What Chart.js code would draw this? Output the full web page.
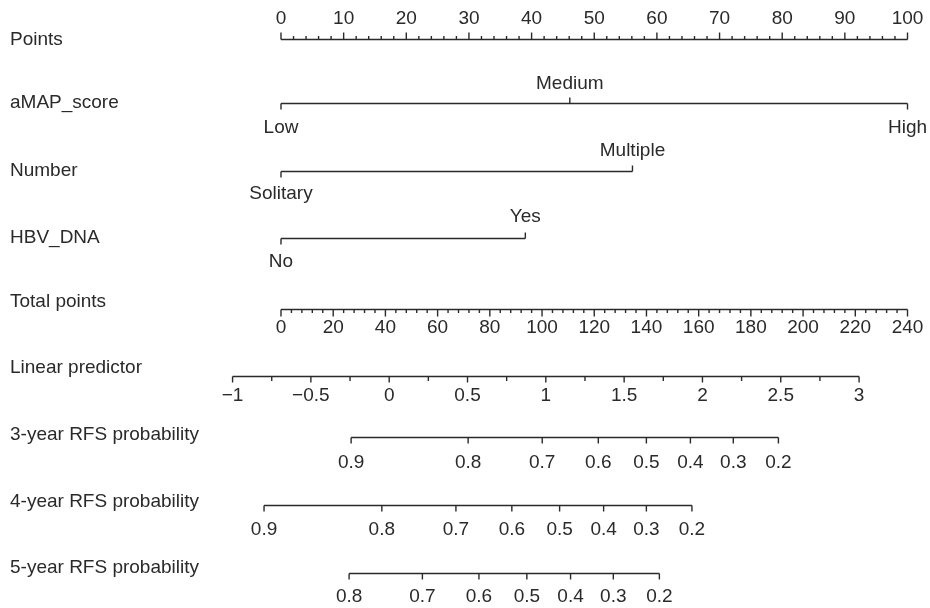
<!DOCTYPE html>
<html>
<head>
<meta charset="utf-8">
<script src="https://cdn.jsdelivr.net/npm/chart.js@4"></script>
<style>
  body { margin: 0; background: #fff; }
  canvas { display: block; }
</style>
</head>
<body>
<canvas id="nomogram" width="930" height="608"></canvas>
<script>
// Nomogram data
const rowLabels = [
  "Points", "aMAP_score", "Number", "HBV_DNA", "Total points",
  "Linear predictor", "3-year RFS probability", "4-year RFS probability", "5-year RFS probability",
];

const pointsTicks = [0, 10, 20, 30, 40, 50, 60, 70, 80, 90, 100];

const amapLevels = ["Low", "Medium", "High"];
const amapPoints = [0, 46.1, 100];
const numberLevels = ["Solitary", "Multiple"];
const numberPoints = [0, 56.1];
const hbvLevels = ["No", "Yes"];
const hbvPoints = [0, 39.0];

const totalTicks = [0, 20, 40, 60, 80, 100, 120, 140, 160, 180, 200, 220, 240];
const lpTicks = [-1, -0.5, 0, 0.5, 1, 1.5, 2, 2.5, 3];

// probability labels and where they sit on the linear predictor
const rfs3Probs = [0.9, 0.8, 0.7, 0.6, 0.5, 0.4, 0.3, 0.2];
const rfs3Lp = [-0.243, 0.504, 0.977, 1.335, 1.642, 1.923, 2.197, 2.485];
const rfs4Probs = [0.9, 0.8, 0.7, 0.6, 0.5, 0.4, 0.3, 0.2];
const rfs4Lp = [-0.799, -0.047, 0.426, 0.783, 1.088, 1.369, 1.642, 1.933];
const rfs5Probs = [0.8, 0.7, 0.6, 0.5, 0.4, 0.3, 0.2];
const rfs5Lp = [-0.256, 0.212, 0.573, 0.879, 1.158, 1.431, 1.725];

// everything is drawn on the "Points" scale
const totalToPoints = (t) => t / 2.4;
const lpToPoints = (lp) => 17.27 + 25 * lp;

const INK = "#2a2a2a";
const FONT = '19px "Liberation Sans", Arial, Helvetica, sans-serif';

function range(a, b, step) {
  const out = [];
  for (let v = a; v <= b + 1e-9; v += step) out.push(+v.toFixed(4));
  return out;
}

// row layout: y of the axis line, ticks, labels
const rows = [
  {
    y: 39.5, labelY: 40,
    ticks: pointsTicks.map((v) => ({ x: v, text: String(v), up: true, len: 7 }))
      .concat(range(0, 100, 2).filter((v) => v % 10 !== 0).map((v) => ({ x: v, up: true, len: 3.5 }))),
    textOff: 21,
  },
  {
    y: 103.5, labelY: 103,
    ticks: amapLevels.map((l, i) => ({ x: amapPoints[i], text: l, up: i === 1, len: 6 })),
    textOff: 20, textOffDown: 24,
  },
  {
    y: 171.5, labelY: 171,
    ticks: numberLevels.map((l, i) => ({ x: numberPoints[i], text: l, up: i === 1, len: 6 })),
    textOff: 21, textOffDown: 22,
  },
  {
    y: 238.5, labelY: 238,
    ticks: hbvLevels.map((l, i) => ({ x: hbvPoints[i], text: l, up: i === 1, len: 6 })),
    textOff: 22, textOffDown: 23,
  },
  {
    y: 309.5, labelY: 302,
    ticks: totalTicks.map((v) => ({ x: totalToPoints(v), text: String(v), up: false, len: 7 }))
      .concat(range(0, 240, 4).filter((v) => v % 20 !== 0).map((v) => ({ x: totalToPoints(v), up: false, len: 3.5 }))),
    textOffDown: 18,
  },
  {
    y: 376.5, labelY: 368,
    ticks: lpTicks.map((v) => ({ x: lpToPoints(v), text: String(v).replace("-", "\u2212"), up: false, len: 6 }))
      .concat(range(-0.75, 2.75, 0.5).map((v) => ({ x: lpToPoints(v), up: false, len: 4.5 }))),
    textOffDown: 19,
  },
  {
    y: 437.5, labelY: 435,
    ticks: rfs3Probs.map((p, i) => ({ x: lpToPoints(rfs3Lp[i]), text: p.toFixed(1), up: false, len: 6 })),
    textOffDown: 25,
  },
  {
    y: 505.5, labelY: 502,
    ticks: rfs4Probs.map((p, i) => ({ x: lpToPoints(rfs4Lp[i]), text: p.toFixed(1), up: false, len: 6 })),
    textOffDown: 24,
  },
  {
    y: 573.5, labelY: 568,
    ticks: rfs5Probs.map((p, i) => ({ x: lpToPoints(rfs5Lp[i]), text: p.toFixed(1), up: false, len: 6 })),
    textOffDown: 23,
  },
];

// one line dataset per axis, from its lowest tick to its highest
const datasets = rows.map((r) => {
  const xs = r.ticks.map((t) => t.x);
  return {
    data: [{ x: Math.min(...xs), y: r.y }, { x: Math.max(...xs), y: r.y }],
    showLine: true,
    borderColor: INK,
    borderWidth: 1.4,
    pointRadius: 0,
  };
});

const nomogramAxes = {
  id: "nomogramAxes",
  afterDatasetsDraw(chart) {
    const { ctx, scales } = chart;
    const sx = scales.x, sy = scales.y;
    ctx.save();
    ctx.strokeStyle = INK;
    ctx.fillStyle = INK;
    ctx.lineWidth = 1.4;
    ctx.font = FONT;
    ctx.textBaseline = "middle";

    rows.forEach((r, i) => {
      const yLine = sy.getPixelForValue(r.y);
      // row name on the left
      ctx.textAlign = "left";
      ctx.fillText(rowLabels[i], 10, sy.getPixelForValue(r.labelY));

      ctx.textAlign = "center";
      r.ticks.forEach((t) => {
        const px = sx.getPixelForValue(t.x);
        const dir = t.up ? -1 : 1;
        ctx.beginPath();
        ctx.moveTo(px, yLine);
        ctx.lineTo(px, yLine + dir * t.len);
        ctx.stroke();
        if (t.text) {
          const off = t.up ? r.textOff : r.textOffDown;
          ctx.fillText(t.text, px, yLine + dir * off);
        }
      });
    });
    ctx.restore();
  },
};

new Chart(document.getElementById("nomogram"), {
  type: "scatter",
  data: { datasets },
  options: {
    responsive: false,
    animation: false,
    devicePixelRatio: 1,
    layout: { padding: 0 },
    scales: {
      x: { type: "linear", min: -44.85, max: 103.59, display: false },
      y: { type: "linear", min: 0, max: 608, reverse: true, display: false },
    },
    plugins: {
      legend: { display: false },
      tooltip: { enabled: false },
    },
  },
  plugins: [nomogramAxes],
});
</script>
</body>
</html>
